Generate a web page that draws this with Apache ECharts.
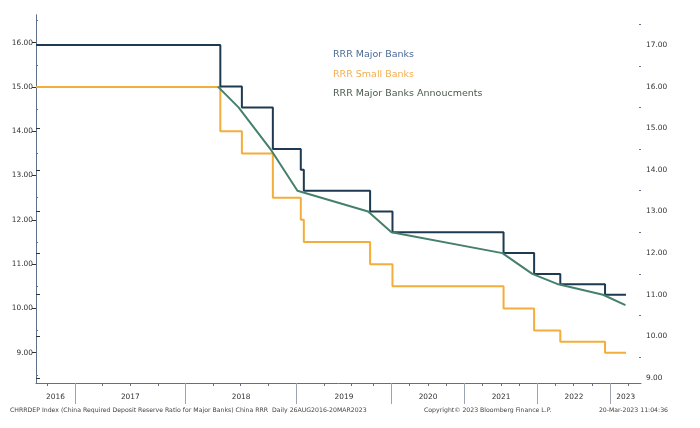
<!DOCTYPE html>
<html>
<head>
<meta charset="utf-8">
<script src="https://cdn.jsdelivr.net/npm/echarts@6/dist/echarts.min.js"></script>
<style>
  html, body { margin: 0; padding: 0; background: #fff; }
  #chart { width: 700px; height: 428px; }
</style>
</head>
<body>
<div id="chart"></div>
<script>
// Données (taux en %)
const stepDates = ['2016-08-26', '2018-04-25', '2018-07-05', '2018-10-15', '2019-01-15', '2019-01-25',
  '2019-09-16', '2020-01-06', '2021-07-15', '2021-12-15', '2022-04-25', '2022-12-05', '2023-03-20'];
const majorValues = [17.0, 16.0, 15.5, 14.5, 14.0, 13.5, 13.0, 12.5, 12.0, 11.5, 11.25, 11.0, 11.0];
const smallValues = [15.0, 14.0, 13.5, 12.5, 12.0, 11.5, 11.0, 10.5, 10.0, 9.5, 9.25, 9.0, 9.0];

const annDates = ['2018-04-17', '2018-06-24', '2018-10-07', '2019-01-04', '2019-09-06', '2020-01-01',
  '2021-07-09', '2021-12-06', '2022-04-15', '2022-11-25', '2023-03-17'];
const annValues = [16.0, 15.5, 14.5, 13.5, 13.0, 12.5, 12.0, 11.5, 11.25, 11.0, 10.75];

const years = [2016, 2017, 2018, 2019, 2020, 2021, 2022, 2023];
const leftTicks = [9, 10, 11, 12, 13, 14, 15, 16];
const rightTicks = [9, 10, 11, 12, 13, 14, 15, 16, 17];

// Bloomberg trace par observation : la série est plus dense avant mi-2019,
// donc l'axe avance plus vite avant cette date qu'après.
const axisStart = '2016-08-26';
const axisEnd = '2023-06-03';
const scaleBreak = '2019-08-01';
const denseRate = 1.52;

const DAY = 86400000;
function days(d) {
  return (Date.parse(d) - Date.parse(axisStart)) / DAY;
}
function axisPos(d) {
  const t = days(d);
  const b = days(scaleBreak);
  return t <= b ? t * denseRate : b * denseRate + (t - b);
}

const xMin = axisPos(axisStart);
const xMax = axisPos(axisEnd);
const clamp = v => Math.max(xMin, Math.min(xMax, v));

// débuts d'année (grands traits) et milieux (libellés)
const yearStarts = years.slice(1).map(y => axisPos(y + '-01-01'));
const yearMids = years.map(y => (clamp(axisPos(y + '-01-01')) + clamp(axisPos((y + 1) + '-01-01'))) / 2);
const quarterTicks = [];
years.forEach(y => {
  ['-04-01', '-07-01', '-10-01'].forEach(m => {
    const p = axisPos(y + m);
    if (p > xMin && p < xMax) quarterTicks.push(p);
  });
});

function yearOf(v) {
  let i = 0;
  while (i < yearStarts.length && v >= yearStarts[i]) i++;
  return years[i];
}

const pairs = (dates, vals) => dates.map((d, i) => [axisPos(d), vals[i]]);

const axisColor = '#5f7186';
const labelFont = { fontFamily: 'DejaVu Sans', fontSize: 7.4, color: '#333' };

const chart = echarts.init(document.getElementById('chart'));

const halves = (lo, hi) => {
  const out = [];
  for (let v = lo + 0.5; v < hi; v += 1) out.push(v);
  return out;
};

const option = {
  backgroundColor: '#fff',
  animation: false,
  grid: { left: 36, right: 59, top: 15, bottom: 45 },
  legend: {
    orient: 'vertical',
    left: 323,
    top: 45,
    icon: 'none',
    itemWidth: 0,
    itemHeight: 10,
    itemGap: 9.5,
    textStyle: { fontFamily: 'DejaVu Sans', fontSize: 9.5 },
    data: [
      { name: 'RRR Major Banks', textStyle: { color: '#4a6a96' } },
      { name: 'RRR Small Banks', textStyle: { color: '#f3ae50' } },
      { name: 'RRR Major Banks Annoucments', textStyle: { color: '#4b5a4c' } }
    ]
  },
  xAxis: [
    {
      type: 'value',
      min: xMin,
      max: xMax,
      axisLine: { show: true, lineStyle: { color: axisColor, width: 1 } },
      axisTick: { show: true, customValues: yearStarts, length: 21, lineStyle: { color: '#9aa5b1' } },
      axisLabel: {
        customValues: yearMids,
        margin: 11,
        formatter: v => String(yearOf(v)),
        ...labelFont
      },
      splitLine: { show: false }
    },
    {
      type: 'value',
      min: xMin,
      max: xMax,
      position: 'bottom',
      offset: 0,
      axisLine: { show: false },
      axisTick: { show: true, customValues: quarterTicks, length: 3, lineStyle: { color: axisColor } },
      axisLabel: { show: false },
      splitLine: { show: false }
    }
  ],
  yAxis: [
    {
      type: 'value',
      position: 'left',
      min: 8.316,
      max: 16.625,
      axisLine: { show: true, lineStyle: { color: axisColor } },
      axisTick: { show: true, customValues: leftTicks, length: 4, lineStyle: { color: '#333' } },
      axisLabel: { customValues: leftTicks, margin: 3, formatter: v => v.toFixed(2), ...labelFont },
      splitLine: { show: false }
    },
    {
      type: 'value',
      position: 'right',
      min: 8.88,
      max: 17.72,
      axisLine: { show: true, lineStyle: { color: axisColor } },
      axisTick: { show: true, customValues: rightTicks, length: 4, lineStyle: { color: '#333' } },
      axisLabel: { customValues: rightTicks, margin: 5, formatter: v => v.toFixed(2), ...labelFont },
      splitLine: { show: false }
    },
    {
      type: 'value',
      position: 'left',
      offset: 0,
      min: 8.316,
      max: 16.625,
      axisLine: { show: false },
      axisTick: { show: true, customValues: halves(8, 16.6), length: 2, inside: true, lineStyle: { color: axisColor } },
      axisLabel: { show: false },
      splitLine: { show: false }
    },
    {
      type: 'value',
      position: 'right',
      offset: 0,
      min: 8.88,
      max: 17.72,
      axisLine: { show: false },
      axisTick: { show: true, customValues: halves(9, 17.7), length: 2, inside: true, lineStyle: { color: axisColor } },
      axisLabel: { show: false },
      splitLine: { show: false }
    }
  ],
  series: [
    {
      name: 'RRR Small Banks',
      type: 'line',
      step: 'end',
      yAxisIndex: 0,
      showSymbol: false,
      lineStyle: { color: '#f3ad3a', width: 2 },
      itemStyle: { color: '#f3ad3a' },
      data: pairs(stepDates, smallValues)
    },
    {
      name: 'RRR Major Banks',
      type: 'line',
      step: 'end',
      yAxisIndex: 1,
      showSymbol: false,
      lineStyle: { color: '#1e3a53', width: 2 },
      itemStyle: { color: '#1e3a53' },
      data: pairs(stepDates, majorValues)
    },
    {
      name: 'RRR Major Banks Annoucments',
      type: 'line',
      yAxisIndex: 1,
      showSymbol: false,
      lineStyle: { color: '#45806a', width: 2 },
      itemStyle: { color: '#45806a' },
      data: pairs(annDates, annValues)
    }
  ],
  graphic: [
    {
      type: 'text', left: 10, top: 407,
      style: {
        text: 'CHRRDEP Index (China Required Deposit Reserve Ratio for Major Banks) China RRR  Daily 26AUG2016-20MAR2023',
        font: '6.2px "DejaVu Sans"', fill: '#444'
      }
    },
    {
      type: 'text', left: 424, top: 407,
      style: { text: 'Copyright© 2023 Bloomberg Finance L.P.', font: '6.2px "DejaVu Sans"', fill: '#444' }
    },
    {
      type: 'text', right: 32, top: 407,
      style: { text: '20-Mar-2023 11:04:36', font: '6.2px "DejaVu Sans"', fill: '#444' }
    }
  ]
};

chart.setOption(option);
</script>
</body>
</html>
